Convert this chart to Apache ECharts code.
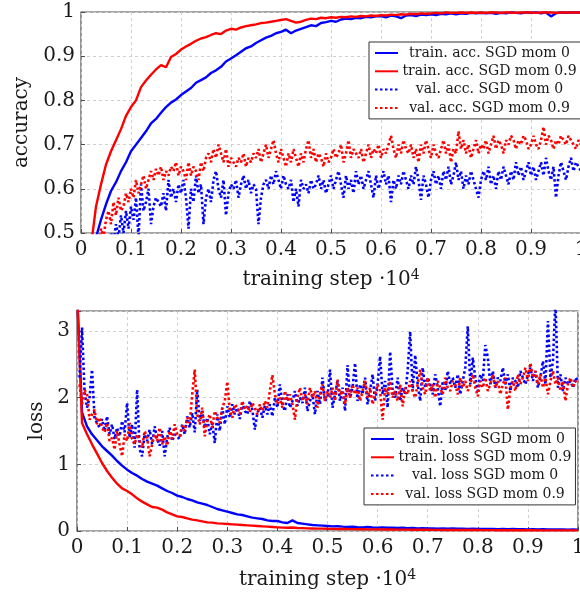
<!DOCTYPE html>
<html>
<head>
<meta charset="utf-8">
<script src="https://cdn.jsdelivr.net/npm/echarts@6/dist/echarts.min.js"></script>
<style>
  html, body { margin: 0; padding: 0; background: #fff; }
  #chart { width: 580px; height: 597px; }
</style>
</head>
<body>
<div id="chart"></div>
<script>
// x axis: training step in units of 10^4
const TRAIN_STEP = 0.01;   // training curves: one value per 100 steps, starting at 0
const VAL_STEP = 0.005;    // validation curves: one value per 50 steps, starting at 50

const xTicks = ['0', '0.1', '0.2', '0.3', '0.4', '0.5', '0.6', '0.7', '0.8', '0.9', '1'];

// ---- accuracy ----
const trainAccMom0 = [
  0.10, 0.20, 0.34, 0.49, 0.53, 0.565, 0.595, 0.615, 0.64, 0.66,
  0.685, 0.70, 0.715, 0.73, 0.748, 0.758, 0.772, 0.785, 0.795, 0.802,
  0.812, 0.82, 0.828, 0.84, 0.846, 0.852, 0.862, 0.868, 0.876, 0.888,
  0.895, 0.902, 0.91, 0.918, 0.922, 0.93, 0.936, 0.942, 0.946, 0.952,
  0.955, 0.96, 0.952, 0.958, 0.962, 0.966, 0.97, 0.968, 0.975, 0.977,
  0.98, 0.978, 0.983, 0.985, 0.984, 0.987, 0.986, 0.989, 0.988, 0.99,
  0.991, 0.988, 0.992, 0.99, 0.986, 0.992, 0.993, 0.991, 0.994, 0.993,
  0.995, 0.993, 0.996, 0.995, 0.997, 0.995, 0.997, 0.996, 0.998, 0.997,
  0.998, 0.997, 0.998, 0.996, 0.998, 0.997, 0.999, 0.998, 0.997, 0.999,
  0.998, 0.999, 0.997, 0.999, 0.99, 0.997, 0.999, 0.998, 0.999, 0.999, 0.999
];
const trainAccMom9 = [
  0.10, 0.25, 0.47, 0.56, 0.61, 0.655, 0.685, 0.71, 0.735, 0.765,
  0.785, 0.80, 0.83, 0.845, 0.858, 0.87, 0.88, 0.875, 0.898, 0.905,
  0.915, 0.922, 0.928, 0.935, 0.94, 0.943, 0.948, 0.952, 0.95, 0.958,
  0.962, 0.96, 0.965, 0.968, 0.97, 0.972, 0.975, 0.976, 0.978, 0.98,
  0.982, 0.984, 0.98, 0.976, 0.978, 0.982, 0.985, 0.984, 0.987, 0.986,
  0.988, 0.987, 0.989, 0.988, 0.99, 0.989, 0.991, 0.99, 0.992, 0.991,
  0.993, 0.992, 0.994, 0.993, 0.995, 0.994, 0.996, 0.995, 0.997, 0.996,
  0.997, 0.998, 0.997, 0.999, 0.998, 0.998, 0.999, 0.998, 0.999, 0.998,
  0.999, 0.998, 0.999, 0.999, 0.998, 0.999, 0.999, 0.998, 0.999, 0.999,
  0.999, 0.998, 0.999, 0.999, 0.999, 0.998, 0.999, 0.999, 0.999, 0.999, 0.999
];
const valAccMom0 = [
  0.30, 0.34, 0.38, 0.40, 0.43, 0.42, 0.45, 0.47, 0.44, 0.48,
  0.46, 0.50, 0.48, 0.52, 0.49, 0.54, 0.50, 0.55, 0.51, 0.56,
  0.53, 0.58, 0.49, 0.61, 0.55, 0.57, 0.60, 0.52, 0.56, 0.58,
  0.57, 0.56, 0.59, 0.55, 0.62, 0.58, 0.60, 0.57, 0.61, 0.59,
  0.62, 0.58, 0.51, 0.60, 0.57, 0.63, 0.59, 0.61, 0.52, 0.58,
  0.60, 0.57, 0.62, 0.64, 0.60, 0.58, 0.62, 0.54, 0.59, 0.61,
  0.60, 0.62, 0.58, 0.61, 0.63, 0.60, 0.62, 0.59, 0.61, 0.60,
  0.52, 0.58, 0.61, 0.62, 0.60, 0.63, 0.61, 0.64, 0.62, 0.60,
  0.63, 0.61, 0.60, 0.62, 0.57, 0.60, 0.56, 0.62, 0.60, 0.61,
  0.59, 0.62, 0.60, 0.61, 0.63, 0.60, 0.62, 0.59, 0.61, 0.63,
  0.60, 0.62, 0.64, 0.61, 0.58, 0.63, 0.60, 0.62, 0.59, 0.64,
  0.61, 0.63, 0.60, 0.62, 0.64, 0.61, 0.58, 0.63, 0.60, 0.62,
  0.64, 0.61, 0.63, 0.57, 0.62, 0.60, 0.63, 0.61, 0.64, 0.62,
  0.60, 0.63, 0.61, 0.65, 0.62, 0.575, 0.63, 0.61, 0.58, 0.62,
  0.64, 0.61, 0.63, 0.60, 0.64, 0.62, 0.65, 0.61, 0.63, 0.66,
  0.62, 0.64, 0.60, 0.63, 0.61, 0.64, 0.62, 0.60, 0.58, 0.62,
  0.64, 0.62, 0.65, 0.61, 0.63, 0.60, 0.64, 0.62, 0.65, 0.63,
  0.61, 0.64, 0.62, 0.66, 0.63, 0.65, 0.62, 0.64, 0.66, 0.63,
  0.65, 0.62, 0.64, 0.66, 0.63, 0.67, 0.64, 0.62, 0.65, 0.58,
  0.63, 0.66, 0.64, 0.62, 0.65, 0.67, 0.64, 0.66, 0.65, 0.64
];
const valAccMom9 = [
  0.32, 0.38, 0.42, 0.46, 0.44, 0.48, 0.47, 0.51, 0.49, 0.53,
  0.55, 0.52, 0.57, 0.54, 0.58, 0.55, 0.56, 0.59, 0.57, 0.60,
  0.58, 0.62, 0.59, 0.61, 0.63, 0.60, 0.62, 0.64, 0.62, 0.645,
  0.63, 0.65, 0.62, 0.64, 0.63, 0.65, 0.64, 0.66, 0.63, 0.65,
  0.64, 0.62, 0.66, 0.63, 0.65, 0.64, 0.62, 0.66, 0.64, 0.67,
  0.68, 0.66, 0.69, 0.67, 0.70, 0.68, 0.66, 0.69, 0.65, 0.67,
  0.66, 0.65, 0.67, 0.66, 0.68, 0.65, 0.67, 0.66, 0.68, 0.67,
  0.69, 0.66, 0.68, 0.70, 0.67, 0.69, 0.71, 0.68, 0.66, 0.69,
  0.67, 0.65, 0.68, 0.66, 0.69, 0.67, 0.65, 0.68, 0.66, 0.69,
  0.71, 0.67, 0.69, 0.66, 0.68, 0.67, 0.65, 0.68, 0.66, 0.67,
  0.69, 0.67, 0.68, 0.70, 0.66, 0.68, 0.71, 0.67, 0.69, 0.68,
  0.67, 0.69, 0.66, 0.68, 0.70, 0.67, 0.69, 0.68, 0.70, 0.67,
  0.69, 0.68, 0.70, 0.72, 0.69, 0.67, 0.70, 0.68, 0.71, 0.69,
  0.68, 0.70, 0.67, 0.69, 0.66, 0.70, 0.68, 0.71, 0.69, 0.67,
  0.70, 0.68, 0.67, 0.69, 0.71, 0.68, 0.70, 0.66, 0.69, 0.68,
  0.73, 0.69, 0.71, 0.68, 0.70, 0.67, 0.69, 0.71, 0.68, 0.70,
  0.69, 0.71, 0.68, 0.70, 0.72, 0.69, 0.71, 0.70, 0.68, 0.71,
  0.70, 0.72, 0.71, 0.69, 0.71, 0.70, 0.72, 0.71, 0.69, 0.70,
  0.72, 0.70, 0.69, 0.71, 0.74, 0.70, 0.72, 0.71, 0.69, 0.71,
  0.70, 0.72, 0.71, 0.70, 0.72, 0.71, 0.70, 0.69, 0.71, 0.70
];

// ---- loss ----
const trainLossMom0 = [
  3.6, 1.78, 1.57, 1.45, 1.36, 1.27, 1.20, 1.13, 1.05, 0.98,
  0.92, 0.87, 0.83, 0.78, 0.74, 0.71, 0.68, 0.64, 0.60, 0.57,
  0.53, 0.51, 0.48, 0.46, 0.43, 0.41, 0.39, 0.36, 0.33, 0.31,
  0.29, 0.27, 0.25, 0.24, 0.22, 0.20, 0.19, 0.18, 0.16, 0.15,
  0.15, 0.13, 0.12, 0.16, 0.12, 0.11, 0.10, 0.09, 0.085, 0.08,
  0.075, 0.07, 0.072, 0.065, 0.06, 0.065, 0.058, 0.055, 0.06, 0.052,
  0.05, 0.055, 0.048, 0.05, 0.045, 0.048, 0.042, 0.045, 0.04, 0.042,
  0.038, 0.04, 0.036, 0.038, 0.035, 0.037, 0.033, 0.035, 0.032, 0.034,
  0.03, 0.032, 0.029, 0.031, 0.028, 0.03, 0.027, 0.029, 0.026, 0.028,
  0.025, 0.027, 0.024, 0.026, 0.023, 0.025, 0.022, 0.024, 0.021, 0.023, 0.02
];
const trainLossMom9 = [
  3.6, 1.62, 1.45, 1.30, 1.16, 1.02, 0.90, 0.80, 0.71, 0.64,
  0.60, 0.55, 0.49, 0.44, 0.40, 0.36, 0.35, 0.32, 0.28, 0.25,
  0.22, 0.21, 0.19, 0.17, 0.16, 0.145, 0.13, 0.125, 0.115, 0.11,
  0.105, 0.10, 0.095, 0.09, 0.085, 0.08, 0.075, 0.07, 0.065, 0.06,
  0.055, 0.05, 0.048, 0.052, 0.045, 0.043, 0.04, 0.038, 0.036, 0.035,
  0.033, 0.032, 0.03, 0.031, 0.029, 0.028, 0.027, 0.026, 0.025, 0.024,
  0.024, 0.023, 0.022, 0.022, 0.021, 0.02, 0.02, 0.019, 0.019, 0.018,
  0.018, 0.017, 0.017, 0.016, 0.016, 0.015, 0.015, 0.015, 0.014, 0.014,
  0.014, 0.013, 0.013, 0.013, 0.012, 0.012, 0.012, 0.012, 0.011, 0.011,
  0.011, 0.011, 0.01, 0.01, 0.01, 0.01, 0.01, 0.01, 0.01, 0.01, 0.01
];
const valLossMom0 = [
  2.30, 3.05, 2.10, 1.85, 2.00, 2.42, 1.70, 1.62, 1.55, 1.68,
  1.50, 1.72, 1.45, 1.60, 1.38, 1.55, 1.42, 1.65, 1.48, 1.92,
  1.40, 1.60, 1.25, 2.12, 1.22, 1.12, 1.45, 1.35, 1.52, 1.30,
  1.57, 1.38, 1.28, 1.50, 1.12, 1.40, 1.55, 1.35, 1.45, 1.42,
  1.38, 1.60, 1.45, 1.72, 1.55, 1.77, 1.48, 2.12, 1.65, 1.80,
  1.55, 1.70, 1.45, 1.62, 1.32, 1.75, 1.50, 1.85, 1.60, 1.87,
  1.70, 1.90, 1.75, 1.85, 1.68, 1.92, 1.80, 1.75, 1.95, 1.82,
  1.52, 1.78, 1.85, 1.70, 1.88, 1.75, 1.90, 1.72, 2.00, 1.85,
  2.20, 1.90, 1.80, 2.05, 1.85, 1.95, 2.10, 1.88, 2.00, 1.92,
  2.15, 1.80, 1.95, 2.05, 1.75, 2.10, 1.90, 2.30, 1.95, 2.00,
  2.42, 1.85, 2.05, 2.25, 1.95, 2.15, 1.80, 2.49, 2.00, 2.15,
  2.52, 1.95, 2.20, 2.05, 2.30, 1.90, 2.10, 2.35, 1.95, 2.20,
  2.62, 2.05, 2.25, 1.85, 2.69, 2.10, 2.00, 2.30, 1.95, 2.15,
  2.05, 2.40, 2.99, 2.10, 2.64, 2.20, 1.95, 2.45, 2.15, 2.30,
  2.20, 2.05, 2.35, 2.15, 1.87, 2.25, 2.10, 2.40, 2.20, 2.30,
  2.15, 2.35, 2.05, 2.25, 2.45, 3.07, 2.20, 2.60, 2.30, 2.10,
  2.35, 2.25, 2.79, 2.60, 2.20, 2.40, 2.15, 2.30, 2.25, 2.45,
  2.20, 2.35, 2.10, 2.30, 2.25, 2.15, 2.40, 2.30, 2.20, 2.35,
  2.45, 2.25, 2.40, 2.15, 2.30, 2.55, 2.20, 3.15, 2.30, 2.55,
  3.45, 2.15, 2.35, 2.10, 2.30, 2.20, 2.25, 2.15, 2.30, 2.25
];
const valLossMom9 = [
  2.20, 1.90, 2.12, 2.05, 1.67, 1.75, 1.82, 1.60, 1.70, 1.55,
  1.48, 1.62, 1.35, 1.40, 1.22, 1.50, 1.30, 1.12, 1.45, 1.35,
  1.62, 1.38, 1.30, 1.45, 1.35, 1.25, 1.50, 1.40, 1.12, 1.30,
  1.45, 1.35, 1.55, 1.30, 1.42, 1.28, 1.50, 1.38, 1.60, 1.45,
  1.42, 1.58, 1.50, 1.70, 1.62, 2.05, 2.42, 1.75, 1.60, 1.85,
  1.42, 1.65, 1.75, 1.55, 1.80, 1.70, 1.62, 1.85, 1.95, 2.24,
  1.80, 1.70, 1.90, 1.85, 1.75, 1.95, 1.82, 1.88, 1.78, 1.92,
  1.85, 1.75, 1.90, 1.80, 1.95, 1.85, 2.10, 2.34, 2.05, 1.90,
  2.00, 1.85, 2.10, 1.95, 2.05, 1.90, 1.67, 2.00, 2.15, 1.95,
  2.05, 1.90, 2.15, 2.00, 2.10, 1.85, 2.05, 2.20, 1.95, 2.10,
  2.00, 2.15, 1.95, 2.27, 2.05, 2.10, 1.90, 2.15, 2.00, 2.20,
  2.05, 2.15, 1.95, 2.10, 2.25, 2.00, 2.15, 1.90, 2.05, 2.20,
  2.10, 1.67, 2.15, 2.05, 2.25, 2.00, 2.10, 1.95, 2.20, 1.87,
  2.15, 2.05, 2.25, 2.10, 2.00, 2.20, 2.42, 2.15, 2.05, 2.30,
  2.10, 2.20, 2.00, 2.25, 2.15, 2.05, 2.30, 2.15, 2.10, 2.25,
  2.20, 2.05, 2.30, 2.15, 2.25, 2.10, 2.20, 2.35, 2.15, 2.02,
  2.25, 2.15, 2.30, 2.10, 2.20, 2.35, 2.15, 2.25, 2.05, 2.20,
  2.30, 1.82, 2.15, 2.25, 2.10, 2.35, 2.20, 2.30, 2.45, 2.25,
  2.52, 2.30, 2.40, 2.20, 2.35, 2.15, 2.30, 2.05, 2.25, 2.40,
  2.20, 2.30, 2.10, 2.25, 1.95, 2.20, 2.30, 2.15, 2.25, 2.20
];

const BLUE = '#0000ff';
const RED = '#ff0000';
const FONT = 'DejaVu Serif';
const TEXT = '#1a1a1a';
const FRAME = '#4d4d4d';

// pair each logged value with its training step
function pairs(values, step, first) {
  return values.map((v, i) => [Math.round((i + first) * step * 10000) / 10000, v]);
}

function xAxis(gridIndex, nameGap) {
  return {
    gridIndex, type: 'value', min: 0, max: 1, interval: 0.1,
    axisLine: { show: false },
    axisTick: { show: true, inside: true, length: 4, lineStyle: { color: FRAME } },
    axisLabel: {
      fontFamily: FONT, fontSize: 20, color: TEXT, margin: 7,
      formatter: v => xTicks[Math.round(v * 10)]
    },
    splitLine: { show: true, lineStyle: { type: [3, 3], color: '#cfcfcf', width: 1 } },
    name: 'training step ·10{sup|4}',
    nameLocation: 'middle', nameGap,
    nameTextStyle: {
      fontFamily: FONT, fontSize: 20, color: TEXT, lineHeight: 24,
      rich: { sup: { fontFamily: FONT, fontSize: 14, lineHeight: 14, verticalAlign: 'top', color: TEXT } }
    }
  };
}

function yAxis(gridIndex, opts) {
  return Object.assign({
    gridIndex, type: 'value',
    axisLine: { show: false },
    axisTick: { show: true, inside: true, length: 4, lineStyle: { color: FRAME } },
    axisLabel: { fontFamily: FONT, fontSize: 20, color: TEXT, margin: 6 },
    splitLine: { show: true, lineStyle: { type: [3, 3], color: '#cfcfcf', width: 1 } },
    nameLocation: 'middle',
    nameTextStyle: { fontFamily: FONT, fontSize: 20, color: TEXT }
  }, opts);
}

function line(name, data, color, dotted, axisIndex) {
  return {
    name, type: 'line', data,
    xAxisIndex: axisIndex, yAxisIndex: axisIndex,
    showSymbol: false, symbol: 'none', clip: true,
    lineStyle: dotted
      ? { color, width: 2.6, type: [2.5, 2.5], cap: 'butt' }
      : { color, width: 2.4 },
    itemStyle: { color },
    emphasis: { disabled: true }
  };
}

function legend(names, left, top, textWidth, padLeft) {
  return {
    orient: 'vertical', left, top, align: 'left',
    data: names,
    itemWidth: 23, itemHeight: 15, itemGap: 4.3,
    padding: [4, 4, 4, padLeft],
    backgroundColor: '#fff', borderColor: '#333', borderWidth: 1,
    itemStyle: { opacity: 0 },
    selectedMode: false,
    formatter: n => '{c|' + n + '}',
    textStyle: {
      rich: { c: { width: textWidth, align: 'center', fontFamily: FONT, fontSize: 14, lineHeight: 15, color: TEXT } }
    }
  };
}

const accNames = ['train. acc. SGD mom 0', 'train. acc. SGD mom 0.9', 'val. acc. SGD mom 0', 'val. acc. SGD mom 0.9'];
const lossNames = ['train. loss SGD mom 0', 'train. loss SGD mom 0.9', 'val. loss SGD mom 0', 'val. loss SGD mom 0.9'];

const chart = echarts.init(document.getElementById('chart'), null, { renderer: 'canvas' });
chart.setOption({
  animation: false,
  backgroundColor: '#fff',
  grid: [
    { left: 81, top: 12, width: 500, height: 221, show: true, borderColor: FRAME, borderWidth: 1.2,
      containLabel: false, outerBoundsMode: 'none' },
    { left: 77, top: 311, width: 501, height: 220, show: true, borderColor: FRAME, borderWidth: 1.2,
      containLabel: false, outerBoundsMode: 'none' }
  ],
  xAxis: [xAxis(0, 35), xAxis(1, 37)],
  yAxis: [
    yAxis(0, { min: 0.5, max: 1, interval: 0.1, name: 'accuracy', nameGap: 47 }),
    yAxis(1, {
      min: 0, max: 3.3, interval: 1, name: 'loss', nameGap: 26,
      axisLabel: {
        fontFamily: FONT, fontSize: 20, color: TEXT, margin: 7,
        formatter: v => (Number.isInteger(v) ? String(v) : '')
      }
    })
  ],
  legend: [
    legend(accNames, 369, 42, 173, 5),
    legend(lossNames, 364, 428, 172, 6)
  ],
  series: [
    line(accNames[0], pairs(trainAccMom0, TRAIN_STEP, 0), BLUE, false, 0),
    line(accNames[1], pairs(trainAccMom9, TRAIN_STEP, 0), RED, false, 0),
    line(accNames[2], pairs(valAccMom0, VAL_STEP, 1), BLUE, true, 0),
    line(accNames[3], pairs(valAccMom9, VAL_STEP, 1), RED, true, 0),
    line(lossNames[0], pairs(trainLossMom0, TRAIN_STEP, 0), BLUE, false, 1),
    line(lossNames[1], pairs(trainLossMom9, TRAIN_STEP, 0), RED, false, 1),
    line(lossNames[2], pairs(valLossMom0, VAL_STEP, 1), BLUE, true, 1),
    line(lossNames[3], pairs(valLossMom9, VAL_STEP, 1), RED, true, 1)
  ]
});
</script>
</body>
</html>
